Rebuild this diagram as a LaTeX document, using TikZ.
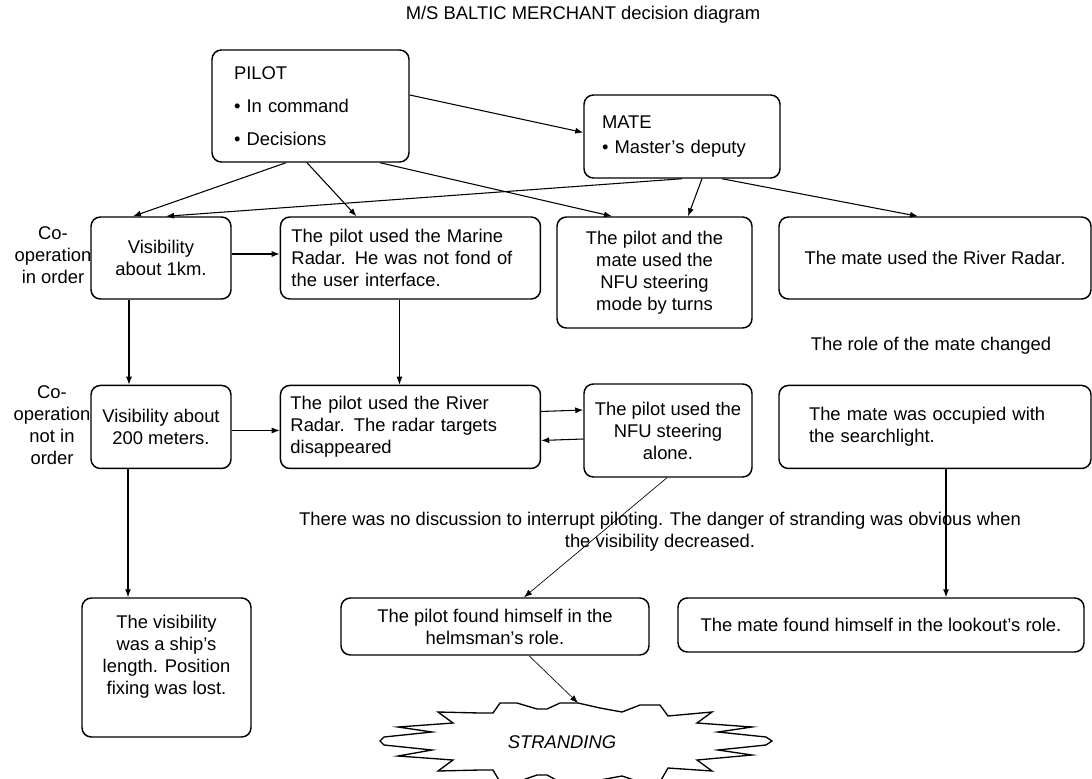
\documentclass[tikz,border=0pt]{standalone}
\usepackage{fontspec}
\setmainfont{Liberation Sans}
\usetikzlibrary{arrows.meta, positioning, calc}
\tikzstyle{every picture} = [x=0.75pt, y=-0.75pt, font=\fontsize{13.8pt}{16.5pt}\selectfont]
\tikzstyle{box} = [draw, rounded corners=7pt, line width=1.1pt, inner sep=0pt, align=center]
\tikzstyle{lbox} = [box, align=left]
\tikzstyle{note} = [inner sep=0pt, align=center]
\tikzstyle{link} = [-{Latex[length=6pt,width=4.5pt]}, line width=0.8pt]
\tikzstyle{hair} = [link, line width=0.5pt]

\begin{document}
\begin{tikzpicture}
	\useasboundingbox (0,0) rectangle (1092,778);
	\node (title) [note] at (583,15) {M/S BALTIC MERCHANT decision diagram};
	% roles
	\node (pilot) [lbox, minimum width=147.75pt, minimum height=84pt, text width=114.75pt, inner xsep=16.5pt] at (310.5,106) {PILOT\\[8.25pt]• In command\\[8.25pt]• Decisions};
	\node (mate) [lbox, minimum width=147pt, minimum height=62.25pt, text width=120pt, inner xsep=13.5pt] at (682,136.5) {MATE\\[2.25pt]• Master's deputy};
	% co-operation in order
	\node (coop1) [note] at (53,255) {Co-\\operation\\in order};
	\node (vis1) [box, minimum width=105pt, minimum height=61.5pt] at (161,258) {Visibility\\about 1km.};
	\node (marine) [lbox, minimum width=195pt, minimum height=61.5pt, text width=178.5pt, inner xsep=8.25pt, right=36pt of vis1] {The pilot used the Marine\\Radar. He was not fond of\\the user interface.};
	\node (turns) [box, minimum width=146.25pt, minimum height=83.25pt] at (654.5,272.5) {The pilot and the\\mate used the\\NFU steering\\mode by turns};
	\node (river) [box, minimum width=234pt, minimum height=61.5pt] at (935,258) {The mate used the River Radar.};
	\node (role) [note] at (931,346) {The role of the mate changed};
	% co-operation not in order
	\node (coop2) [note] at (52,425) {Co-\\operation\\not in\\order};
	\node (vis200) [box, minimum width=105pt, minimum height=62.25pt, below=63.75pt of vis1] {Visibility about\\200 meters.};
	\node (riverp) [lbox, minimum width=195pt, minimum height=62.25pt, text width=180pt, inner xsep=7.5pt, below=63.75pt of marine] {The pilot used the River\\Radar. The radar targets\\disappeared};
	\node (alone) [box, minimum width=126pt, minimum height=69.75pt] at (668,430.5) {The pilot used the\\NFU steering\\alone.};
	\node (search) [lbox, minimum width=234pt, minimum height=62.25pt, text width=189pt, inner xsep=22.5pt, below=63.75pt of river] {The mate was occupied with\\the searchlight.};
	\node (talk) [note] at (660,532) {There was no discussion to interrupt piloting. The danger of stranding was obvious when\\the visibility decreased.};
	% outcome
	\node (length) [box, minimum width=126.75pt, minimum height=104.25pt, text depth=19pt] at (166.5,667.5) {The visibility\\was a ship's\\length. Position\\fixing was lost.};
	\node (helm) [box, minimum width=231pt, minimum height=42.75pt] at (495,626.5) {The pilot found himself in the\\helmsman's role.};
	\node (lookout) [box, minimum width=304.5pt, minimum height=40.5pt] at (881,625) {The mate found himself in the lookout's role.};
	\node (strand) [note, font=\fontsize{13.8pt}{16.5pt}\selectfont\itshape] at (562,742) {STRANDING};
	\draw[line width=1pt] (578,703) coordinate (hit) -- (600,708) -- (622,712) -- (640,705) -- (660,705) -- (668,716) -- (712,712) -- (697,723) -- (752,727) -- (718,732) -- (766,737) -- (772,741) -- (766,745) -- (718,750) -- (752,755) -- (697,760) -- (712,771) -- (668,768) -- (660,782) -- (640,782) -- (622,776) -- (600,780) -- (578,782) -- (560,782) -- (547,775) -- (537,775) -- (517,782) -- (500,782) -- (493,770) -- (480,770) -- (438,771) -- (453,760) -- (398,756) -- (432,750) -- (384,745) -- (380,741) -- (384,737) -- (432,732) -- (398,727) -- (453,723) -- (438,712) -- (480,713) -- (493,713) -- (500,703) -- (517,703) -- (537,709) -- (547,709) -- (560,703) -- cycle;
	% connectors
	\draw[link] ($(pilot.east)+(0,-11)$) -- ($(mate.west)+(0,-4)$);
	\draw[link] ($(pilot.south)+(-24.5,0)$) -- ($(vis1.north)+(-28,0)$);
	\draw[link] ($(pilot.south)+(-3.5,0)$) -- ($(marine.north)+(-54,0)$);
	\draw[link] ($(pilot.south)+(69.5,0)$) -- ($(turns.north)+(-42.5,0)$);
	\draw[link] (mate.south) -- ($(vis1.north)+(5,0)$);
	\draw[link] ($(mate.south)+(20,0)$) -- ($(turns.north)+(33.5,0)$);
	\draw[link] ($(mate.south)+(40,0)$) -- ($(river.north)+(-17,0)$);
	\draw[link] ($(vis1.east)+(0,-4)$) -- ($(marine.west)+(0,-4)$);
	\draw[link] ($(vis1.south)+(-32,0)$) -- ($(vis200.north)+(-32,0)$);
	\draw[link] ($(marine.south)+(-11,0)$) -- ($(riverp.north)+(-11,0)$);
	\draw[link] ($(vis200.east)+(0,3.5)$) -- ($(riverp.west)+(0,3.5)$);
	\draw[link] ($(riverp.east)+(0,-15.5)$) -- ($(alone.west)+(0,-20.5)$);
	\draw[link] ($(alone.west)+(0,8.5)$) -- ($(riverp.east)+(0,13.5)$);
	\draw[link] ($(vis200.south)+(-33,0)$) -- ($(length.north)+(-38.5,0)$);
	\draw[hair] ($(alone.south)+(-1,0)$) -- ($(helm.north)+(29,0)$);
	\draw[hair] ($(helm.south)+(34,0)$) -- (hit);
	\draw[link] ($(search.south)+(11,0)$) -- ($(lookout.north)+(65,0)$);
\end{tikzpicture}
\end{document}
